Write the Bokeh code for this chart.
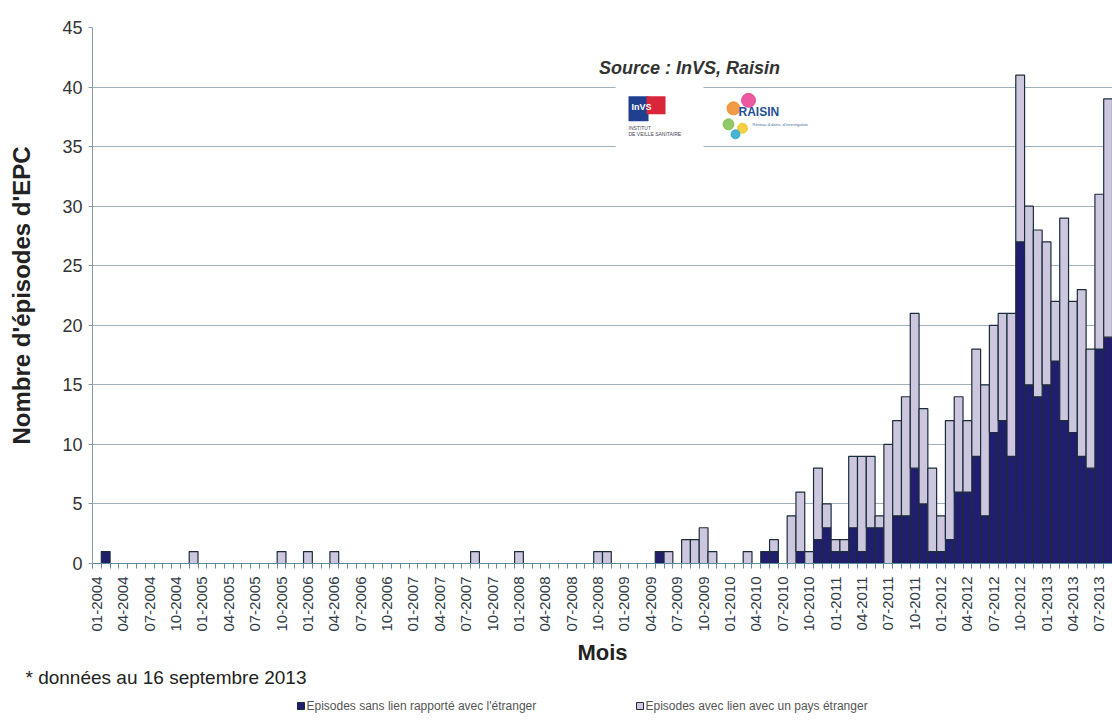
import math
from bokeh.plotting import figure
from bokeh.layouts import column
from bokeh.models import ColumnDataSource, Range1d, FixedTicker, Label
from bokeh.embed import file_html
from bokeh.resources import INLINE

# ---------------- data ----------------
years = ["2004", "2005", "2006", "2007", "2008", "2009", "2010", "2011", "2012", "2013"]
mois = [f"{m:02d}-{y}" for y in years for m in range(1, 13)][:116]  # 01-2004 .. 08-2013

# Episodes sans lien rapporté avec l'étranger (dark)
sans_2004 = [0, 1, 0, 0, 0, 0, 0, 0, 0, 0, 0, 0]
sans_2005 = [0, 0, 0, 0, 0, 0, 0, 0, 0, 0, 0, 0]
sans_2006 = [0, 0, 0, 0, 0, 0, 0, 0, 0, 0, 0, 0]
sans_2007 = [0, 0, 0, 0, 0, 0, 0, 0, 0, 0, 0, 0]
sans_2008 = [0, 0, 0, 0, 0, 0, 0, 0, 0, 0, 0, 0]
sans_2009 = [0, 0, 0, 0, 1, 0, 0, 0, 0, 0, 0, 0]
sans_2010 = [0, 0, 0, 0, 1, 1, 0, 0, 1, 0, 2, 3]
sans_2011 = [1, 1, 3, 1, 3, 3, 0, 4, 4, 8, 5, 1]
sans_2012 = [1, 2, 6, 6, 9, 4, 11, 12, 9, 27, 15, 14]
sans_2013 = [15, 17, 12, 11, 9, 8, 18, 19]

# Episodes avec lien avec un pays étranger (light)
avec_2004 = [0, 0, 0, 0, 0, 0, 0, 0, 0, 0, 0, 1]
avec_2005 = [0, 0, 0, 0, 0, 0, 0, 0, 0, 1, 0, 0]
avec_2006 = [1, 0, 0, 1, 0, 0, 0, 0, 0, 0, 0, 0]
avec_2007 = [0, 0, 0, 0, 0, 0, 0, 1, 0, 0, 0, 0]
avec_2008 = [1, 0, 0, 0, 0, 0, 0, 0, 0, 1, 1, 0]
avec_2009 = [0, 0, 0, 0, 0, 1, 0, 2, 2, 3, 1, 0]
avec_2010 = [0, 0, 1, 0, 0, 1, 0, 4, 5, 1, 6, 2]
avec_2011 = [1, 1, 6, 8, 6, 1, 10, 8, 10, 13, 8, 7]
avec_2012 = [3, 10, 8, 6, 9, 11, 9, 9, 12, 14, 15, 14]
avec_2013 = [12, 5, 17, 11, 14, 10, 13, 20]

sans_lien = (sans_2004 + sans_2005 + sans_2006 + sans_2007 + sans_2008 +
             sans_2009 + sans_2010 + sans_2011 + sans_2012 + sans_2013)
avec_lien = (avec_2004 + avec_2005 + avec_2006 + avec_2007 + avec_2008 +
             avec_2009 + avec_2010 + avec_2011 + avec_2012 + avec_2013)

tick_labels = ["01-2004", "04-2004", "07-2004", "10-2004",
               "01-2005", "04-2005", "07-2005", "10-2005",
               "01-2006", "04-2006", "07-2006", "10-2006",
               "01-2007", "04-2007", "07-2007", "10-2007",
               "01-2008", "04-2008", "07-2008", "10-2008",
               "01-2009", "04-2009", "07-2009", "10-2009",
               "01-2010", "04-2010", "07-2010", "10-2010",
               "01-2011", "04-2011", "07-2011", "10-2011",
               "01-2012", "04-2012", "07-2012", "10-2012",
               "01-2013", "04-2013", "07-2013"]
y_ticks = [0, 5, 10, 15, 20, 25, 30, 35, 40, 45]

legend_labels = ["Episodes sans lien rapporté avec l'étranger",
                 "Episodes avec lien avec un pays étranger"]

# ---------------- styling ----------------
FONT = "Liberation Sans"
DARK = "#211e6f"
LIGHT = "#ccc7df"
EDGE = "#1c2c3a"
GRID = "#9fb1bd"

W, H = 1112, 667
FL, FT, FB = 92, 27, 103     # frame borders inside figure
N = len(mois)

p = figure(width=W, height=H, output_backend="svg", toolbar_location=None,
           x_range=Range1d(-0.5, N - 0.5), y_range=Range1d(0, 45),
           min_border_left=FL, min_border_right=0, min_border_top=FT,
           min_border_bottom=FB)
p.outline_line_color = None
p.background_fill_color = "white"
p.border_fill_color = "white"

# helpers for decorative placement (page pixels -> data coordinates)
frame_w = W - FL
frame_h = H - FT - FB
def X(px):
    return (px - FL) / frame_w * N - 0.5
def Y(py):
    return (FT + frame_h - py) / frame_h * 45.0

src = ColumnDataSource(dict(x=list(range(N)), mois=mois, sans=sans_lien, avec=avec_lien))
rs = p.vbar_stack(["sans", "avec"], x="x", width=1.0, source=src,
                  fill_color=[DARK, LIGHT], line_color=EDGE, line_width=1.2)

# axes
p.xgrid.visible = False
p.ygrid.grid_line_color = GRID
p.ygrid.grid_line_width = 1.2
p.ygrid.ticker = FixedTicker(ticks=y_ticks)

p.yaxis.ticker = FixedTicker(ticks=y_ticks)
p.yaxis.axis_label = "Nombre d'épisodes d'EPC"
p.yaxis.axis_label_text_font = FONT
p.yaxis.axis_label_text_font_style = "bold"
p.yaxis.axis_label_text_font_size = "24px"
p.yaxis.axis_label_text_color = "#222222"
p.yaxis.axis_label_standoff = 24
p.yaxis.major_label_text_font = FONT
p.yaxis.major_label_text_font_size = "18px"
p.yaxis.major_label_text_color = "#333333"
p.yaxis.major_label_standoff = 6
p.yaxis.axis_line_color = "#8a9aa6"
p.yaxis.major_tick_line_color = "#8a9aa6"
p.yaxis.major_tick_out = 4
p.yaxis.major_tick_in = 0
p.yaxis.minor_tick_line_color = None

p.xaxis.ticker = FixedTicker(ticks=list(range(0, N, 3)),
                             minor_ticks=[i - 0.5 for i in range(N + 1)])
p.xaxis.major_label_overrides = {i * 3: lab for i, lab in enumerate(tick_labels)}
p.xaxis.major_label_orientation = math.pi / 2
p.xaxis.major_label_text_font = FONT
p.xaxis.major_label_text_font_size = "15px"
p.xaxis.major_label_text_color = "#2f3a44"
p.xaxis.major_label_standoff = 8
p.xaxis.major_tick_line_color = None
p.xaxis.major_tick_out = 0
p.xaxis.major_tick_in = 0
p.xaxis.minor_tick_line_color = "#5f8aa0"
p.xaxis.minor_tick_out = 5
p.xaxis.minor_tick_in = 0
p.xaxis.axis_line_color = "#5f8aa0"
p.xaxis.axis_label = "Mois"
p.xaxis.axis_label_text_font = FONT
p.xaxis.axis_label_text_font_style = "bold"
p.xaxis.axis_label_text_font_size = "22px"
p.xaxis.axis_label_text_color = "#222222"
p.xaxis.axis_label_standoff = 5

# source text and logos (decoration)
p.add_layout(Label(x=X(689), y=Y(68), text="Source : InVS, Raisin", text_font=FONT,
                   text_font_style="bold italic", text_font_size="18px",
                   text_color="#333333", text_align="center", text_baseline="middle"))
p.quad(left=[X(615)], right=[X(703)], bottom=[Y(149)], top=[Y(85)],
       fill_color="white", line_color=None)
p.quad(left=[X(628)], right=[X(648)], bottom=[Y(121)], top=[Y(96)],
       fill_color="#1f3f8f", line_color=None)
p.quad(left=[X(646)], right=[X(665)], bottom=[Y(114)], top=[Y(96)],
       fill_color="#d9263a", line_color=None)
p.add_layout(Label(x=X(641), y=Y(107), text="InVS", text_font=FONT, text_font_size="9px",
                   text_color="white", text_align="center", text_baseline="middle",
                   text_font_style="bold"))
p.add_layout(Label(x=X(628), y=Y(128), text="INSTITUT", text_font=FONT,
                   text_font_size="5px", text_color="#445", text_baseline="middle"))
p.add_layout(Label(x=X(628), y=Y(134), text="DE VEILLE SANITAIRE", text_font=FONT,
                   text_font_size="5px", text_color="#445", text_baseline="middle"))
p.scatter(x=[X(748), X(733), X(728), X(742), X(735)],
          y=[Y(100), Y(108), Y(124), Y(128), Y(134)],
          size=[14, 13, 11, 10, 9],
          color=["#e83d8f", "#f08a24", "#7cc04a", "#f3c623", "#2aa6c9"], alpha=0.85)
p.add_layout(Label(x=X(738), y=Y(112), text="RAISIN", text_font=FONT, text_font_size="12px",
                   text_color="#1f4e9a", text_baseline="middle", text_font_style="bold"))
p.add_layout(Label(x=X(752), y=Y(124), text="Réseau d'alerte, d'investigation", text_font=FONT,
                   text_font_size="4px", text_color="#4a6fa0", text_baseline="middle"))

# ---------------- footer: footnote + legend ----------------
H2 = 720 - H
f = figure(width=W, height=H2, output_backend="svg", toolbar_location=None,
           x_range=Range1d(0, W), y_range=Range1d(H2, 0),
           min_border_left=0, min_border_right=0, min_border_top=0, min_border_bottom=0)
f.axis.visible = False
f.grid.visible = False
f.outline_line_color = None
f.background_fill_color = "white"
f.border_fill_color = "white"

for fig in (p, f):
    try:
        fig.frame_align = False
    except Exception:
        pass

def fy(py):
    return py - H

f.add_layout(Label(x=25, y=fy(677), text="* données au 16 septembre 2013", text_font=FONT,
                   text_font_size="19px", text_color="#222222", text_baseline="middle"))
f.quad(left=[297, 636], right=[304, 643], top=[fy(702), fy(702)], bottom=[fy(709), fy(709)],
       fill_color=[DARK, LIGHT], line_color=EDGE, line_width=1)
f.add_layout(Label(x=306, y=fy(705.5), text=legend_labels[0], text_font=FONT,
                   text_font_size="12px", text_color="#555555", text_baseline="middle"))
f.add_layout(Label(x=645, y=fy(705.5), text=legend_labels[1], text_font=FONT,
                   text_font_size="12px", text_color="#555555", text_baseline="middle"))

open("out.html", "w").write(file_html(column(p, f, spacing=0), INLINE))
